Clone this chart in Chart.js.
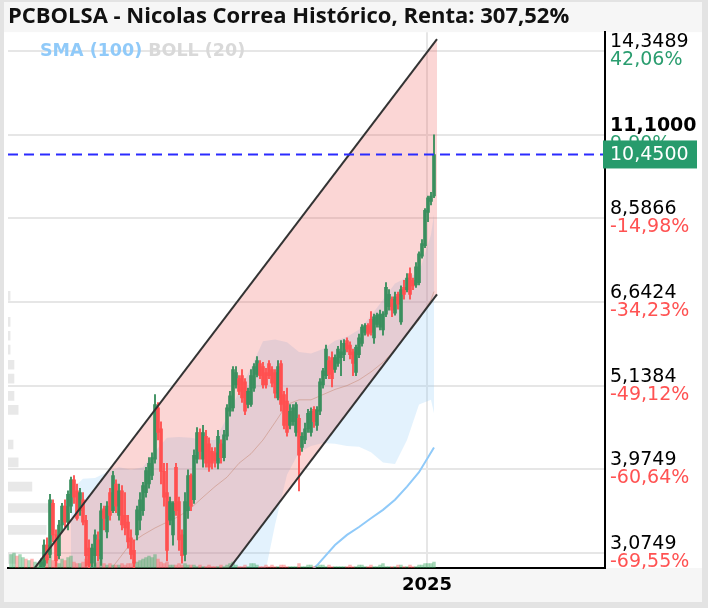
<!DOCTYPE html>
<html>
<head>
<meta charset="utf-8">
<script src="https://cdn.jsdelivr.net/npm/chart.js@4.4.1/dist/chart.umd.min.js"></script>
<style>
  html, body { margin: 0; padding: 0; background: #fff; }
  #wrap { width: 708px; height: 608px; }
</style>
</head>
<body>
<div id="wrap"><canvas id="chart" width="708" height="608"></canvas></div>
<script>
const chartTitle = 'PCBOLSA - Nicolas Correa Histórico, Renta: 307,52%';

// daily candles, index 0..141 (prices in EUR)
const opens = [
  2.82, 2.84, 2.86, 2.83, 2.87, 2.89, 2.86, 2.90, 2.88, 2.91,
  2.90, 2.96, 3.15, 3.06, 3.58, 3.25, 3.05, 3.35, 3.55, 3.38,
  3.55, 3.85, 3.72, 3.50, 3.62, 3.40, 3.12, 2.98, 3.05, 3.20,
  3.02, 3.52, 3.28, 3.70, 3.50, 3.80, 3.45, 3.72, 3.45, 3.38,
  3.22, 3.10, 3.25, 3.40, 3.50, 3.70, 3.80, 3.90, 4.10, 4.80,
  4.50, 3.95, 3.70, 3.40, 3.25, 4.00, 3.60, 3.25, 3.06, 3.50,
  3.90, 3.62, 4.10, 4.45, 4.10, 4.40, 4.30, 4.20, 4.18, 4.05,
  4.30, 4.12, 4.40, 4.75, 4.80, 5.15, 5.25, 5.30, 5.20, 4.85,
  4.85, 5.10, 5.32, 5.50, 5.45, 5.35, 5.50, 5.40, 5.35, 4.95,
  5.50, 5.00, 4.90, 4.55, 4.60, 4.45, 4.65, 4.25, 4.35, 4.50,
  4.45, 4.78, 4.55, 4.75, 5.15, 5.30, 5.55, 5.60, 5.40, 5.50,
  5.60, 5.65, 5.90, 5.82, 5.70, 5.35, 5.65, 5.85, 6.05, 6.18,
  6.30, 5.95, 6.20, 6.15, 6.10, 6.40, 6.55, 6.70, 6.42, 6.80,
  6.25, 6.95, 6.90, 7.25, 7.10, 7.00, 7.05, 7.65, 7.90, 8.75,
  9.05, 9.20
];
const highs = [
  2.86, 2.88, 2.90, 2.89, 2.91, 2.92, 2.91, 2.93, 2.92, 2.94,
  3.02, 3.20, 3.22, 3.68, 3.62, 3.30, 3.40, 3.58, 3.62, 3.72,
  3.88, 3.90, 3.80, 3.75, 3.70, 3.45, 3.20, 3.16, 3.30, 3.28,
  3.58, 3.55, 3.60, 3.75, 3.95, 3.85, 3.80, 3.78, 3.70, 3.45,
  3.30, 3.20, 3.55, 3.70, 3.82, 4.00, 4.12, 4.18, 5.00, 4.88,
  4.60, 4.05, 4.05, 3.65, 3.60, 4.05, 3.65, 3.30, 3.70, 3.97,
  3.92, 4.22, 4.52, 4.50, 4.55, 4.48, 4.38, 4.25, 4.25, 4.48,
  4.35, 4.48, 4.85, 5.05, 5.45, 5.45, 5.30, 5.40, 5.25, 5.10,
  5.40, 5.50, 5.62, 5.55, 5.52, 5.42, 5.55, 5.45, 5.40, 5.55,
  5.55, 5.05, 5.10, 4.85, 4.85, 4.88, 4.70, 4.45, 4.58, 4.78,
  4.80, 4.82, 4.82, 5.25, 5.42, 5.82, 5.62, 5.70, 5.65, 5.80,
  5.90, 5.92, 5.95, 5.88, 5.75, 5.82, 6.02, 6.20, 6.22, 6.22,
  6.45, 6.40, 6.42, 6.48, 6.45, 7.05, 6.90, 6.75, 6.85, 6.85,
  6.98, 7.10, 7.25, 7.38, 7.15, 7.50, 7.75, 8.05, 8.85, 9.20,
  9.30, 11.10
];
const lows = [
  2.78, 2.80, 2.82, 2.80, 2.84, 2.85, 2.83, 2.86, 2.85, 2.87,
  2.88, 2.94, 2.98, 3.03, 3.18, 2.95, 3.02, 3.28, 3.33, 3.30,
  3.48, 3.58, 3.40, 3.45, 3.35, 2.95, 2.93, 2.93, 2.95, 3.00,
  2.96, 3.30, 3.22, 3.40, 3.48, 3.48, 3.40, 3.30, 3.25, 3.12,
  3.02, 2.93, 3.20, 3.30, 3.45, 3.65, 3.75, 3.85, 4.05, 4.35,
  3.80, 3.55, 3.00, 3.35, 3.15, 3.45, 3.10, 2.98, 3.00, 3.42,
  3.50, 3.58, 4.05, 4.10, 4.00, 4.00, 3.95, 3.98, 4.00, 3.98,
  4.05, 4.08, 4.35, 4.68, 4.75, 5.10, 5.00, 4.88, 4.70, 4.80,
  4.82, 5.05, 5.28, 5.25, 5.10, 5.10, 5.25, 5.12, 4.95, 4.92,
  4.75, 4.50, 4.40, 4.50, 4.55, 4.40, 3.72, 4.20, 4.30, 4.45,
  4.40, 4.52, 4.48, 4.70, 5.10, 5.25, 5.25, 5.12, 5.35, 5.45,
  5.30, 5.55, 5.70, 5.58, 5.30, 5.30, 5.60, 5.80, 6.00, 5.98,
  6.00, 5.85, 6.15, 6.10, 6.00, 6.35, 6.48, 6.35, 6.38, 6.50,
  6.20, 6.70, 6.85, 6.70, 6.90, 6.95, 7.00, 7.60, 7.85, 8.50,
  8.95, 9.15
];
const closes = [
  2.84, 2.86, 2.83, 2.87, 2.89, 2.86, 2.90, 2.88, 2.91, 2.92,
  2.99, 3.15, 3.01, 3.62, 3.25, 3.00, 3.35, 3.55, 3.38, 3.68,
  3.85, 3.65, 3.42, 3.70, 3.38, 3.05, 2.96, 3.12, 3.25, 3.05,
  3.50, 3.42, 3.55, 3.45, 3.90, 3.55, 3.72, 3.35, 3.32, 3.18,
  3.06, 2.98, 3.51, 3.62, 3.78, 3.96, 4.05, 4.12, 4.85, 4.45,
  3.95, 3.65, 3.10, 3.60, 3.58, 3.50, 3.20, 3.05, 3.60, 3.90,
  3.55, 4.15, 4.45, 4.20, 4.45, 4.05, 4.00, 4.05, 4.08, 4.40,
  4.12, 4.42, 4.80, 4.98, 5.40, 5.35, 5.05, 4.95, 4.75, 5.05,
  5.30, 5.45, 5.55, 5.30, 5.15, 5.15, 5.30, 5.18, 5.02, 5.45,
  4.85, 4.55, 4.45, 4.75, 4.80, 4.85, 4.15, 4.40, 4.50, 4.72,
  4.75, 4.60, 4.77, 5.20, 5.38, 5.75, 5.32, 5.25, 5.60, 5.75,
  5.70, 5.85, 5.75, 5.65, 5.50, 5.78, 5.95, 6.15, 6.18, 6.02,
  6.05, 6.35, 6.38, 6.40, 6.40, 6.95, 6.80, 6.48, 6.75, 6.60,
  6.90, 6.80, 7.15, 6.80, 6.98, 7.40, 7.70, 7.95, 8.80, 9.15,
  9.20, 10.45
];
const volumes = [
  9, 10, 8, 9, 7, 6, 5, 6, 4, 3,
  5, 7, 6, 9, 5, 4, 3, 6, 5, 7, 8,
  4, 3, 3, 4, 6, 5, 3, 3, 4, 6,
  3, 2, 3, 2, 2, 2, 3, 2, 3, 3, 4,
  4, 5, 6, 7, 8, 7, 9, 6, 4,
  3, 4, 2, 2, 2, 3, 2, 3, 2, 2,
  2, 1, 2, 1, 1, 2, 1, 1, 1, 2, 1, 2, 3, 4, 2, 1, 1, 2, 1, 3,
  3, 2, 1, 1, 2, 1, 2, 1, 1, 2, 2, 1, 1, 1, 1, 3, 1, 1, 2, 2,
  1, 1, 2, 2, 1, 2, 1, 1, 1, 1, 1, 1, 2, 1, 1, 2, 2, 1, 1, 2,
  1, 1, 2, 3, 1, 1, 1, 1, 2, 2, 1, 1, 2, 1, 1, 2, 2, 3, 3, 3, 4
];

// Bollinger (20) and SMA (100)
const bbIndex = [20, 24, 28, 32, 36, 40, 44, 48, 52, 56, 60, 64, 68, 72, 76, 80,
                 84, 88, 92, 96, 100, 104, 108, 112, 116, 120, 124, 128, 132, 136, 140, 141];
const bbUpper = [3.73, 3.86, 3.87, 3.94, 4.00, 3.97, 4.00, 4.20, 4.38, 4.39, 4.38, 4.35, 4.35, 4.66, 5.04, 5.43,
                 5.89, 5.92, 5.87, 5.70, 5.67, 5.75, 5.90, 5.97, 6.10, 6.37, 6.69, 7.03, 7.16, 7.27, 8.17, 8.69];
const bbMiddle = [2.50, 2.60, 2.75, 2.88, 3.02, 3.17, 3.25, 3.32, 3.38, 3.44, 3.53, 3.65, 3.77, 3.88, 4.05, 4.17,
                  4.35, 4.59, 4.85, 4.92, 4.92, 5.00, 5.08, 5.14, 5.23, 5.36, 5.52, 5.74, 6.01, 6.29, 6.69, 6.86];
const bbLower = [1.60, 1.70, 1.80, 1.90, 2.00, 2.30, 2.50, 2.45, 2.40, 2.50, 2.70, 2.85, 2.90, 2.85, 2.80, 2.75,
                 2.80, 3.35, 3.91, 4.19, 4.27, 4.31, 4.30, 4.27, 4.26, 4.19, 4.06, 4.04, 4.35, 4.85, 4.92, 4.72];
const smaIndex = [99, 102, 108, 112, 116, 120, 124, 128, 132, 136, 141];
const smaValues = [2.89, 2.96, 3.15, 3.25, 3.33, 3.42, 3.51, 3.62, 3.77, 3.94, 4.25];

// trend channel
const channelIndex = [8, 142];
const channelUpper = [2.94, 14.89];
const channelLower = [1.334, 6.80];

// volume by price (left side)
const profilePrices = [3.02, 3.30, 3.53, 3.77, 4.06, 4.29, 4.77, 4.98, 5.25, 5.48, 5.74, 5.99, 6.25, 6.77];
const profileVolumes = [1.3, 6.4, 7.5, 4.0, 1.7, 0.85, 1.7, 1.0, 1.0, 1.0, 0.35, 0.35, 0.35, 0.35];

// axis
const tickValues = [3.0749, 3.9749, 5.1384, 6.6424, 8.5866, 11.1, 14.3489];
const tickPercents = ['-69,55%', '-60,64%', '-49,12%', '-34,23%', '-14,98%', '9,90%', '42,06%'];
const yearTicks = [138.67];
const yearLabels = ['2025'];
const lastPrice = 10.45;
const legendLabels = ['SMA (100)', 'BOLL (20)'];
const legendColors = ['#90caf9', '#d9d9d9'];

const GREEN = '#3a8f5e';
const RED = '#ff5050';
const SANS = '"DejaVu Sans", sans-serif';
const fmt = v => v.toFixed(4).replace('.', ',');
const pts = (xs, ys) => xs.map((x, i) => ({x: x, y: ys[i]}));
const up = closes.map((c, i) => c >= opens[i]);

const framePlugin = {
  id: 'frame',
  beforeDraw(chart) {
    const {ctx, chartArea: a} = chart;
    ctx.save();
    ctx.fillStyle = '#e3e3e3';
    ctx.fillRect(0, 0, 708, 608);
    ctx.fillStyle = '#f6f6f6';
    ctx.fillRect(4, 2, 698, 600);
    ctx.fillStyle = '#ffffff';
    ctx.fillRect(4, a.top, 698, a.bottom - a.top);
    ctx.restore();
  }
};

const overlayPlugin = {
  id: 'overlay',
  afterDraw(chart) {
    const {ctx} = chart;
    const ys = chart.scales.y;
    ctx.save();
    ctx.textAlign = 'left';
    ctx.textBaseline = 'middle';
    ctx.font = '19px ' + SANS;
    tickValues.forEach((v, i) => {
      const py = ys.getPixelForValue(v);
      ctx.fillStyle = tickPercents[i].charAt(0) === '-' ? '#ff5252' : '#2a9d6f';
      ctx.fillText(tickPercents[i], ys.left + 5, py + 9);
    });
    // last price marker
    const py = ys.getPixelForValue(lastPrice);
    ctx.fillStyle = '#279b6c';
    ctx.fillRect(ys.left - 2, py - 14, 94, 28);
    ctx.fillStyle = '#ffffff';
    ctx.fillText(fmt(lastPrice), ys.left + 5, py + 1);
    // indicator legend
    ctx.font = 'bold 17.5px ' + SANS;
    let x = chart.chartArea.left + 32;
    legendLabels.forEach((t, i) => {
      ctx.fillStyle = legendColors[i];
      ctx.fillText(t, x, ys.getPixelForValue(14.3489));
      x += ctx.measureText(t).width + 6;
    });
    ctx.restore();
  }
};

new Chart(document.getElementById('chart'), {
  type: 'bar',
  data: {
    datasets: [
      {
        type: 'line', label: 'BOLL up', order: 20,
        data: pts(bbIndex, bbUpper),
        borderWidth: 0, borderColor: 'rgba(0,0,0,0)', pointRadius: 0,
        fill: '+1', backgroundColor: 'rgba(144,202,249,0.25)'
      },
      {
        type: 'line', label: 'BOLL low', order: 20,
        data: pts(bbIndex, bbLower),
        borderWidth: 0, borderColor: 'rgba(0,0,0,0)', pointRadius: 0, fill: false
      },
      {
        type: 'line', label: 'channel fill up', order: 19,
        data: pts(channelIndex, channelUpper),
        borderWidth: 0, borderColor: 'rgba(0,0,0,0)', pointRadius: 0,
        fill: '+1', backgroundColor: 'rgba(239,83,80,0.24)'
      },
      {
        type: 'line', label: 'channel fill low', order: 19,
        data: pts(channelIndex, channelLower),
        borderWidth: 0, borderColor: 'rgba(0,0,0,0)', pointRadius: 0, fill: false
      },
      {
        type: 'bar', label: 'profile', order: 18, indexAxis: 'y',
        xAxisID: 'xProf', yAxisID: 'y', grouped: false,
        data: profilePrices.map((p, i) => ({x: profileVolumes[i], y: p})),
        backgroundColor: 'rgba(205,205,205,0.45)', barThickness: 9
      },
      {
        type: 'line', label: 'BOLL mid', order: 10,
        data: pts(bbIndex, bbMiddle),
        borderWidth: 1, borderColor: 'rgba(200,140,120,0.55)', pointRadius: 0, fill: false
      },
      {
        type: 'line', label: 'SMA (100)', order: 9,
        data: pts(smaIndex, smaValues),
        borderWidth: 2, borderColor: '#90caf9', pointRadius: 0, fill: false
      },
      {
        type: 'bar', label: 'volume', order: 8, yAxisID: 'yVol', grouped: false,
        data: volumes.map((v, i) => ({x: i, y: v})),
        backgroundColor: up.map(u => u ? 'rgba(60,170,100,0.45)' : 'rgba(255,90,90,0.45)'),
        barThickness: 2.8
      },
      {
        type: 'bar', label: 'wick', order: 3, grouped: false,
        data: lows.map((l, i) => ({x: i, y: [l, highs[i]]})),
        backgroundColor: up.map(u => u ? GREEN : RED),
        barThickness: 1.2
      },
      {
        type: 'bar', label: 'body', order: 2, grouped: false,
        data: opens.map((o, i) => ({x: i, y: [o, closes[i]]})),
        backgroundColor: up.map(u => u ? GREEN : RED),
        barThickness: 3, minBarLength: 1
      },
      {
        type: 'line', label: 'channel up', order: 1,
        data: pts(channelIndex, channelUpper),
        borderWidth: 2, borderColor: '#333', pointRadius: 0, fill: false
      },
      {
        type: 'line', label: 'channel low', order: 1,
        data: pts(channelIndex, channelLower),
        borderWidth: 2, borderColor: '#333', pointRadius: 0, fill: false
      },
      {
        type: 'line', label: 'last', order: 0,
        data: [{x: -1, y: lastPrice}, {x: 198, y: lastPrice}],
        borderWidth: 2, borderColor: '#2b2bff', borderDash: [10, 6], pointRadius: 0, fill: false
      }
    ]
  },
  options: {
    responsive: false,
    animation: false,
    devicePixelRatio: 1,
    events: [],
    layout: { padding: { left: 8, right: 8, top: 3, bottom: 8 } },
    plugins: {
      legend: { display: false },
      tooltip: { enabled: false },
      title: {
        display: true, text: chartTitle, align: 'start', color: '#111',
        font: { family: '"Open Sans", sans-serif', size: 22, weight: 'bold', lineHeight: 1.1 },
        padding: { top: 2, bottom: 3 }
      }
    },
    scales: {
      x: {
        type: 'linear', min: -1, max: 198, offset: false,
        afterBuildTicks: s => { s.ticks = yearTicks.map(v => ({value: v})); },
        afterFit: s => { s.height = 32; },
        ticks: {
          callback: (v, i) => yearLabels[i],
          color: '#000', maxRotation: 0, autoSkip: false, padding: 7,
          font: { family: SANS, size: 18, weight: 'bold' }
        },
        grid: { color: '#e6e6e6', lineWidth: 2, drawTicks: false, offset: false },
        border: { color: '#000', width: 2 }
      },
      y: {
        type: 'logarithmic', position: 'right', min: 2.936, max: 15.21, offset: false,
        afterBuildTicks: s => { s.ticks = tickValues.map(v => ({value: v})); },
        afterFit: s => { s.width = 95; },
        ticks: {
          callback: v => [fmt(v), ''],
          color: '#000', autoSkip: false, padding: 5,
          font: c => ({
            family: SANS, size: 19, lineHeight: 0.95,
            weight: c.tick && c.tick.value === 11.1 ? 'bold' : 'normal'
          })
        },
        grid: { color: '#e6e6e6', lineWidth: 2, drawTicks: false, offset: false },
        border: { color: '#000', width: 2 }
      },
      yVol: { type: 'linear', display: false, min: 0, max: 360, offset: false },
      xProf: { type: 'linear', display: false, min: 0, max: 100, offset: false }
    }
  },
  plugins: [framePlugin, overlayPlugin]
});
</script>
</body>
</html>
